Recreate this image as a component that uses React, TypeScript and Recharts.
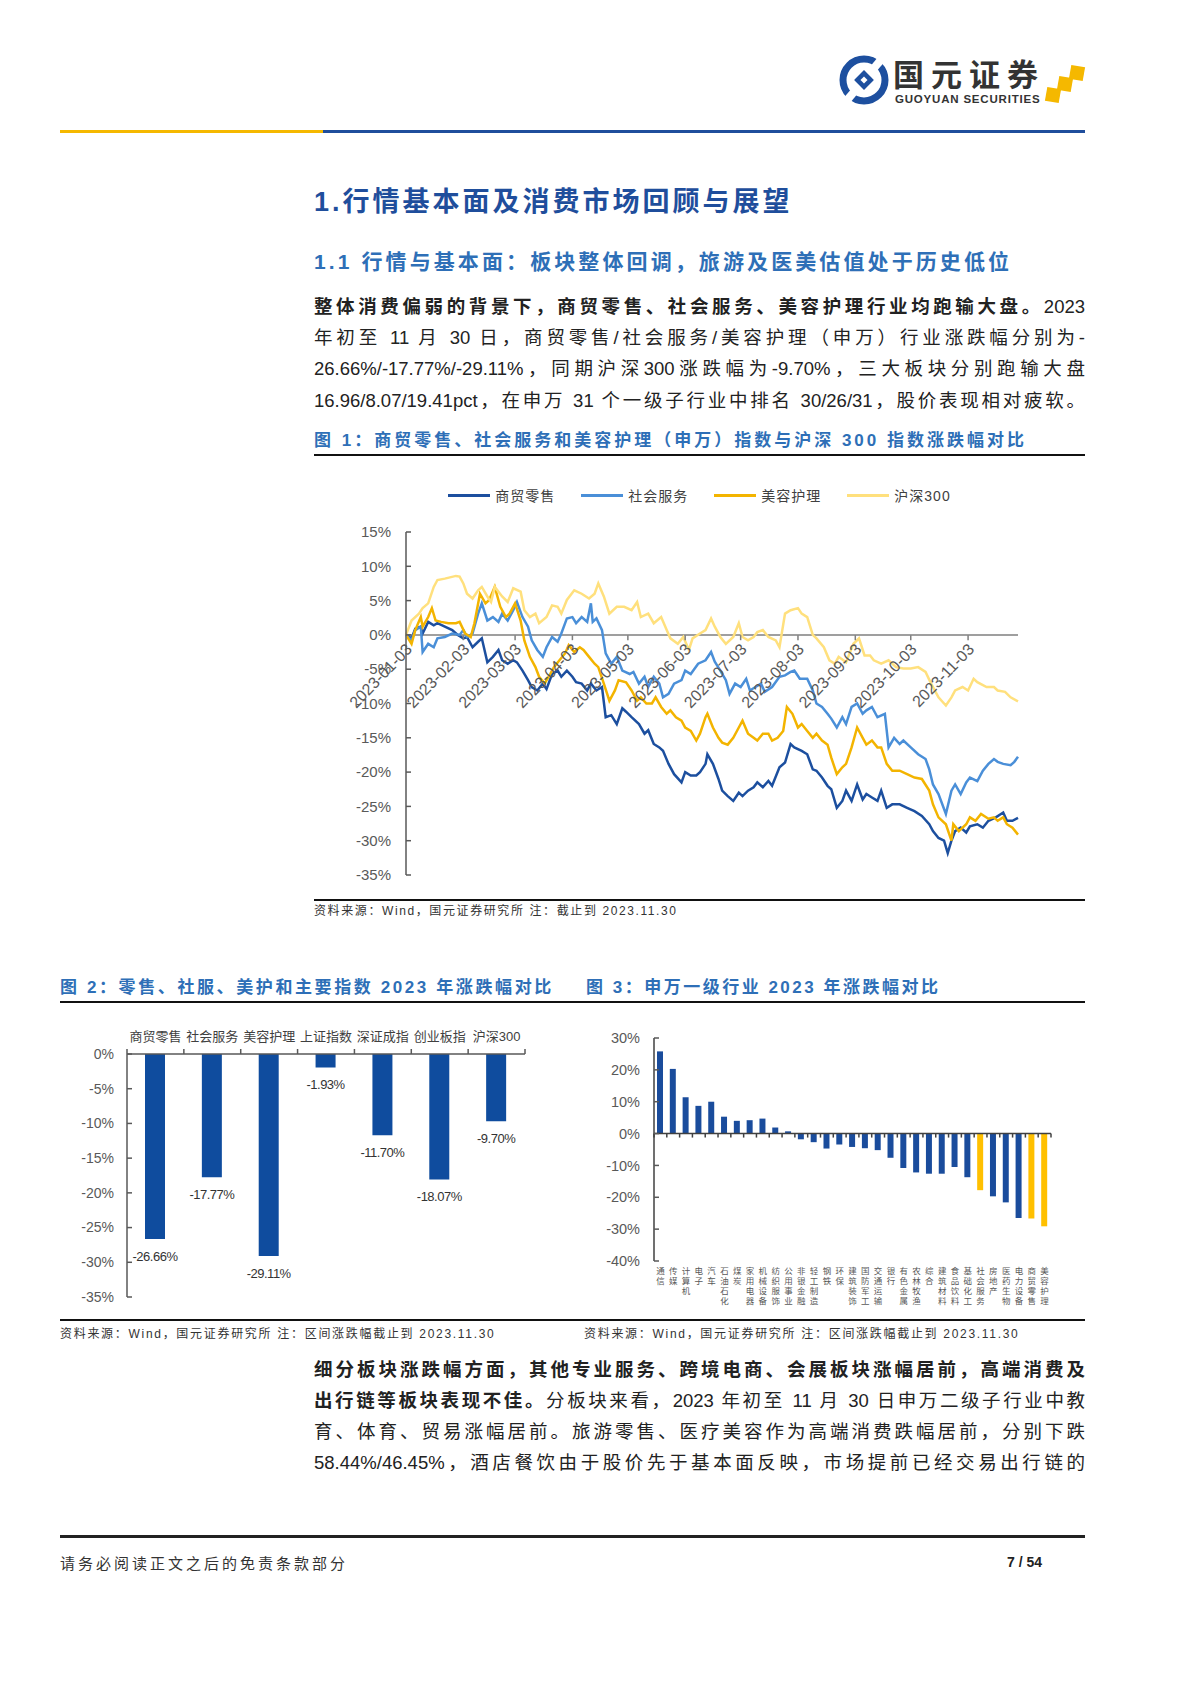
import React from 'react';
import {
  LineChart, Line, BarChart, Bar, XAxis, YAxis, ReferenceLine, Legend, LabelList, Cell,
} from 'recharts';

const FONT = '"Liberation Sans", "Noto Sans CJK SC", sans-serif';
const TITLE_BLUE = '#1F4E9C';
const CAP_BLUE = '#2E6FB7';
const AXIS = '#595959';

// ---- 图1: [day of year, %] ----
const retailPts: [number, number][] = [
  [3, 0], [6, -0.5], [8, 0.9], [11, 1.2], [12, 0.2], [15, 1.9], [18, 1.4], [20, 1.7], [24, 1.2], [28, 0.7],
  [31, 0], [34, -0.5], [36, -0.3], [39, -1.8], [42, -1], [44, -0.5], [47, -4], [50, -3.2], [53, -2.2], [55, -3.7],
  [58, -4.2], [61, -3.7], [63, -4], [66, -5.2], [69, -6.6], [71, -7.6], [74, -8.1], [77, -7.1], [79, -7.9], [82, -5.7],
  [85, -5.2], [87, -6.1], [90, -5.2], [93, -6.1], [95, -6.9], [98, -7.1], [101, -8.1], [103, -7.1], [106, -8.1], [109, -7.6],
  [111, -12], [114, -11.7], [117, -13], [120, -10.7], [122, -11.2], [125, -12], [129, -13], [132, -14.4], [134, -13.9], [137, -15.9],
  [140, -16.4], [142, -16.9], [145, -18.8], [148, -20.3], [152, -21.5], [154, -20], [157, -20.5], [160, -20.5], [162, -20], [165, -18.8],
  [166, -17.4], [169, -18.8], [172, -21], [174, -22.7], [177, -23.5], [180, -24.2], [183, -23], [185, -23.5], [188, -22.7], [191, -22.2],
  [193, -21.5], [196, -22.2], [199, -21.3], [201, -22], [205, -19.3], [208, -18.6], [211, -15.9], [213, -16.4], [217, -16.9], [220, -17.4],
  [223, -19.6], [225, -19.8], [228, -20.8], [231, -22], [233, -22.5], [236, -25.2], [239, -24.2], [241, -22.7], [244, -24.2], [247, -21.8],
  [250, -24], [252, -23.2], [255, -23.7], [258, -24.2], [260, -22.7], [263, -25.2], [266, -24.7], [270, -24.7], [274, -25.2], [278, -25.7],
  [282, -26.4], [286, -27.6], [288, -28.6], [291, -29.6], [294, -30], [296, -31.8], [298, -30], [300, -28.6], [303, -28.1], [306, -28.8],
  [308, -27.9], [312, -27.6], [315, -28.1], [318, -27.1], [322, -26.6], [326, -25.9], [328, -27.1], [331, -27.1], [334, -26.66],
];
const socialPts: [number, number][] = [
  [3, 0], [6, -0.8], [8, 0.7], [11, 1.2], [12, -2.5], [15, -1.3], [18, -1.8], [20, -0.5], [24, -0.3], [28, 0.2],
  [32, 0], [34, 0.7], [36, -0.3], [39, 0.2], [42, 3.1], [44, 4.6], [47, 2.1], [50, 2.6], [53, 1.9], [55, 3.1],
  [58, 2.1], [61, 3.6], [63, 4.8], [66, 2.6], [69, 1.2], [71, -0.8], [74, -2.2], [77, -3.2], [79, -1.8], [82, -0.3],
  [85, -1], [87, 0.2], [90, 2.4], [93, 2.6], [95, 1.7], [98, 2.6], [101, 1.9], [103, 4.6], [104, 1.9], [106, 2.4],
  [109, 0.7], [111, -2.7], [114, -4.2], [117, -3.2], [120, -5.2], [124, -5.7], [126, -5.4], [129, -7.1], [132, -6.1], [134, -7.6],
  [137, -6.1], [140, -7.1], [142, -9.1], [145, -8.6], [148, -7.1], [152, -6.6], [154, -5.2], [157, -5.7], [161, -4.2], [165, -3.7],
  [168, -2.5], [170, -3.9], [173, -5.2], [176, -6.6], [178, -8.6], [181, -7.1], [184, -7.6], [187, -6.4], [189, -8.1], [192, -7.6],
  [195, -7.1], [197, -8.3], [201, -7.6], [205, -6.1], [208, -5.9], [211, -5.4], [213, -5.2], [216, -6.4], [220, -6.4], [223, -8.1],
  [225, -10], [228, -10.5], [231, -11.5], [233, -12.2], [236, -13.5], [239, -12], [241, -13], [244, -10.5], [247, -10], [250, -11.5],
  [252, -11], [255, -10.5], [258, -12], [262, -11.5], [264, -16.4], [267, -15], [270, -15.9], [272, -15.4], [276, -16.4], [280, -17.4],
  [284, -18.1], [286, -19.6], [288, -21.8], [291, -23.2], [295, -26.1], [298, -22.7], [300, -21.8], [303, -23.2], [306, -21.5], [308, -20.8],
  [312, -21.3], [315, -19.8], [318, -18.8], [321, -18.1], [323, -18.5], [326, -18.8], [330, -19], [332, -18.5], [334, -17.77],
];
const beautyPts: [number, number][] = [
  [3, 0], [6, -1.3], [8, 0.7], [11, 2.6], [12, 1.2], [15, 2.6], [17, 3.9], [19, 2.1], [22, 1.9], [26, 1.7],
  [30, 1.7], [32, 1.9], [35, 0.2], [38, -0.3], [40, 1.7], [43, 6], [46, 4.6], [48, 5.1], [51, 7], [54, 4.1],
  [57, 2.6], [59, 3.1], [62, 4.6], [65, 2.1], [67, -0.8], [70, -3.2], [73, -4.7], [75, -6.1], [78, -7.1], [81, -5.7],
  [83, -4.7], [86, -3.7], [89, -2.7], [91, -1.5], [94, -2.5], [97, -1.8], [99, -2.2], [102, -3.2], [105, -4.2], [107, -4.7],
  [110, -7.1], [113, -9.6], [116, -8.1], [118, -6.6], [122, -6.9], [125, -8.1], [128, -9.6], [130, -9.1], [133, -10], [136, -10],
  [138, -9.1], [141, -10.5], [144, -11.5], [146, -11], [149, -12], [152, -12.5], [154, -13.5], [157, -14], [160, -15.4], [162, -14.4],
  [165, -12], [166, -11.5], [169, -13.5], [172, -15], [174, -15.7], [177, -16], [180, -15], [183, -13.5], [185, -12.5], [188, -14.4],
  [191, -15], [193, -15.4], [196, -14.4], [199, -14.4], [201, -15.4], [204, -15], [207, -14], [209, -10.5], [212, -11.5], [215, -13.5],
  [217, -13], [220, -14], [223, -15], [225, -14.4], [228, -15.4], [231, -16], [233, -17.9], [236, -20.3], [239, -19.3], [241, -18.8],
  [244, -16.4], [247, -13.5], [250, -15], [252, -16], [255, -15.4], [258, -16.4], [260, -16.4], [263, -18.8], [266, -19.8], [270, -19.8],
  [274, -20.3], [278, -20.8], [282, -21], [286, -22.7], [288, -24.7], [291, -26.6], [295, -27.6], [298, -30], [299, -27.6], [302, -28.6],
  [306, -27.6], [308, -26.6], [311, -27.1], [314, -26.1], [318, -26.8], [321, -26.6], [323, -27.1], [326, -26.6], [328, -27.6], [331, -28.1],
  [334, -29.11],
];
const hs300Pts: [number, number][] = [
  [3, 0], [6, 2.1], [10, 3.1], [12, 3.9], [15, 4.6], [18, 7], [20, 8], [24, 8.2], [30, 8.6], [32, 8.5],
  [34, 7.5], [36, 6], [39, 5.3], [42, 6.5], [44, 7], [47, 5.6], [49, 4.8], [51, 7], [55, 5.6], [58, 4.8],
  [61, 6.8], [65, 6.3], [67, 3.6], [70, 2.6], [73, 3.1], [75, 1.7], [79, 2.6], [82, 4.3], [85, 4.1], [87, 3.1],
  [90, 5.1], [94, 6.5], [98, 6], [102, 5.3], [105, 6], [107, 7.5], [110, 5.6], [113, 3.1], [117, 4.1], [121, 4.1],
  [125, 3.6], [128, 4.8], [130, 2.6], [134, 3.1], [137, 1.7], [141, 2.6], [144, 0.7], [146, -0.5], [150, -1.3], [153, -0.3],
  [156, -2.2], [158, -0.5], [162, 0.2], [165, 0.7], [168, 2.4], [170, 1.2], [173, -0.3], [176, -1.3], [180, -0.3], [183, 1.7],
  [185, -0.3], [188, -0.8], [191, -0.3], [193, 0.4], [196, 0.7], [199, -0.3], [203, -0.8], [205, -1.8], [208, 3.1], [211, 3.6],
  [215, 3.9], [217, 3.1], [220, 2.6], [223, 0], [225, -0.5], [229, -1.8], [232, -3.7], [235, -4.2], [237, -3.2], [241, -4],
  [245, -1.3], [248, -0.5], [251, -3], [254, -3], [256, -3.7], [260, -4.2], [264, -3.7], [268, -4.7], [272, -4.9], [276, -4.9],
  [280, -4.7], [284, -5.4], [287, -7.1], [291, -9.1], [295, -10.3], [298, -9.1], [300, -8.1], [304, -7.6], [307, -8.1], [310, -6.4],
  [312, -6.9], [317, -7.6], [321, -7.6], [323, -8.1], [327, -8.3], [330, -9.1], [334, -9.7],
];

const monthTicks = [3, 34, 62, 93, 123, 154, 184, 215, 246, 276, 307];
const monthLabels = [
  '2023-01-03', '2023-02-03', '2023-03-03', '2023-04-03', '2023-05-03', '2023-06-03',
  '2023-07-03', '2023-08-03', '2023-09-03', '2023-10-03', '2023-11-03',
];
const pctTicks1 = [15, 10, 5, 0, -5, -10, -15, -20, -25, -30, -35];

// ---- 图2 ----
const idxNames = ['商贸零售', '社会服务', '美容护理', '上证指数', '深证成指', '创业板指', '沪深300'];
const idxValues = [-26.66, -17.77, -29.11, -1.93, -11.7, -18.07, -9.7];
const pctTicks2 = [0, -5, -10, -15, -20, -25, -30, -35];

// ---- 图3 ----
const indNames = [
  '通信', '传媒', '计算机', '电子', '汽车', '石油石化', '煤炭', '家用电器', '机械设备', '纺织服饰',
  '公用事业', '非银金融', '轻工制造', '钢铁', '环保', '建筑装饰', '国防军工', '交通运输', '银行', '有色金属',
  '农林牧渔', '综合', '建筑材料', '食品饮料', '基础化工', '社会服务', '房地产', '医药生物', '电力设备', '商贸零售',
  '美容护理',
];
const indValues = [
  25.8, 20.3, 11.4, 8.7, 10.0, 5.3, 4.0, 4.2, 4.7, 1.9,
  0.7, -1.8, -2.7, -4.7, -3.4, -4.2, -4.6, -5.2, -7.6, -10.8,
  -12.2, -12.6, -12.6, -10.5, -13.7, -17.77, -19.7, -21.6, -26.5, -26.66,
  -29.11,
];
const highlight = ['社会服务', '商贸零售', '美容护理'];
const pctTicks3 = [30, 20, 10, 0, -10, -20, -30, -40];

const seriesList = [
  { key: 'retail', name: '商贸零售', color: '#1C4F9F', pts: retailPts },
  { key: 'social', name: '社会服务', color: '#4A8FD8', pts: socialPts },
  { key: 'beauty', name: '美容护理', color: '#F3B400', pts: beautyPts },
  { key: 'hs300', name: '沪深300', color: '#FFE07D', pts: hs300Pts },
];

const lineData = (() => {
  const rows = new Map<number, any>();
  seriesList.forEach((s) => s.pts.forEach(([d, v]) => {
    const row = rows.get(d) ?? { d };
    row[s.key] = v;
    rows.set(d, row);
  }));
  return [...rows.values()].sort((a, b) => a.d - b.d);
})();
const idxData = idxNames.map((name, i) => ({ name, v: idxValues[i] }));
const indData = indNames.map((name, i) => ({ name, v: indValues[i] }));

// chart 1 plot geometry (inside its svg); legend box height is added on top of margin
const LEGEND_H = 20;
const C1 = { w: 771, h: 425, top: 62, left: 92, right: 67, bottom: 19 };
const C1_ZERO = C1.top + (C1.h - C1.top - C1.bottom) * (15 / 50);

const C2 = { w: 492, h: 300, top: 44, left: 67, right: 27, bottom: 13 };
const C2_BAND = (C2.w - C2.left - C2.right) / idxNames.length;

const C3 = { w: 499, h: 300, top: 23, left: 68, right: 34, xh: 54 };
const C3_ZERO = C3.top + (C3.h - C3.top - C3.xh) * (30 / 70);
const C3_BAND = (C3.w - C3.left - C3.right) / indNames.length;

const MonthTick = (props: any) => {
  const { x, payload } = props;
  const i = monthTicks.indexOf(payload.value);
  return (
    <g>
      <line x1={x} x2={x} y1={C1_ZERO} y2={C1_ZERO + 5} stroke="#7F7F7F" strokeWidth={1.5} />
      <text
        transform={`translate(${x + 3},${C1_ZERO + 11}) rotate(-46)`}
        textAnchor="end" dy="0.35em" fontSize={16} fill={AXIS} fontFamily={FONT}
      >
        {monthLabels[i]}
      </text>
    </g>
  );
};

const makeYTick = (axisX: number, size: number, gap: number) => (props: any) => {
  const { y, payload } = props;
  return (
    <g>
      <line x1={axisX} x2={axisX + 5} y1={y} y2={y} stroke={AXIS} strokeWidth={1.5} />
      <text x={axisX - gap} y={y} dy="0.35em" textAnchor="end" fontSize={size} fill={AXIS} fontFamily={FONT}>
        {`${payload.value}%`}
      </text>
    </g>
  );
};

const TopTick = (props: any) => {
  const { x, payload, index } = props;
  const last = index === idxNames.length - 1;
  return (
    <g>
      <line x1={x - C2_BAND / 2} x2={x - C2_BAND / 2} y1={C2.top} y2={C2.top - 5} stroke={AXIS} strokeWidth={1.5} />
      {last && <line x1={x + C2_BAND / 2} x2={x + C2_BAND / 2} y1={C2.top} y2={C2.top - 5} stroke={AXIS} strokeWidth={1.5} />}
      <text x={x} y={C2.top - 18} dy="0.35em" textAnchor="middle" fontSize={13} fill="#404040" fontFamily={FONT}>
        {payload.value}
      </text>
    </g>
  );
};

const VertTick = (props: any) => {
  const { x, payload, index } = props;
  const chars = String(payload.value).split('');
  const last = index === indNames.length - 1;
  return (
    <g>
      <line x1={x - C3_BAND / 2} x2={x - C3_BAND / 2} y1={C3_ZERO} y2={C3_ZERO + 4} stroke="#404040" strokeWidth={1.5} />
      {last && <line x1={x + C3_BAND / 2} x2={x + C3_BAND / 2} y1={C3_ZERO} y2={C3_ZERO + 4} stroke="#404040" strokeWidth={1.5} />}
      {chars.map((c, i) => (
        <text key={i} x={x} y={C3.h - C3.xh + 13 + i * 10} textAnchor="middle" fontSize={8.5} fill="#595959" fontFamily={FONT}>
          {c}
        </text>
      ))}
    </g>
  );
};

const BarValueLabel = (props: any) => {
  const { x, y, width, height, value } = props;
  const end = Math.max(y, y + height);
  return (
    <text x={x + width / 2} y={end + 17} dy="0.35em" textAnchor="middle" fontSize={13} fill="#333" fontFamily={FONT} letterSpacing={-0.5}>
      {`${Number(value).toFixed(2)}%`}
    </text>
  );
};

const LegendContent = () => (
  <div style={{ display: 'flex', justifyContent: 'center', gap: 26, height: LEGEND_H, alignItems: 'center', fontFamily: FONT, fontSize: 14, letterSpacing: 1, color: '#404040' }}>
    {seriesList.map((s) => (
      <div key={s.key} style={{ display: 'flex', alignItems: 'center' }}>
        <span style={{ display: 'inline-block', width: 42, height: 3, background: s.color, marginRight: 5 }} />
        <span>{s.name}</span>
      </div>
    ))}
  </div>
);

const Txt = ({ x, y, size, w, bold, color, ls, justify, children }: any) => (
  <div
    style={{
      position: 'absolute', left: x, top: y - size * 0.7, width: w, height: size * 1.4, lineHeight: `${size * 1.4}px`,
      fontSize: size, fontWeight: bold ? 700 : 400, color: color ?? '#222', letterSpacing: ls ?? 0,
      whiteSpace: 'nowrap', fontFamily: FONT,
      textAlign: justify ? 'justify' : 'left', textAlignLast: justify ? 'justify' : 'auto',
    } as React.CSSProperties}
  >
    {children}
  </div>
);

const HLine = ({ x, y, w, h, color }: any) => (
  <div style={{ position: 'absolute', left: x, top: y - h / 2, width: w, height: h, background: color }} />
);

const Logo = () => (
  <svg style={{ position: 'absolute', left: 838, top: 54 }} width={52} height={52}>
    <circle cx={26} cy={26} r={21} stroke="#1D4F9F" strokeWidth={7} fill="none" />
    <rect x={22} y={0} width={8} height={12} fill="#fff" transform="rotate(40 26 26)" />
    <rect x={22} y={40} width={8} height={12} fill="#fff" transform="rotate(40 26 26)" />
    <rect x={19} y={19} width={14} height={14} fill="#1D4F9F" transform="rotate(45 26 26)" />
    <rect x={23.5} y={23.5} width={5} height={5} fill="#fff" transform="rotate(45 26 26)" />
  </svg>
);

export default function App() {
  return (
    <div style={{ position: 'absolute', left: 0, top: 0, width: 1200, height: 1698, background: '#fff', overflow: 'hidden' }}>
      {/* header */}
      <Logo />
      <Txt x={893} y={76} size={31} bold color="#333" ls={7}>国元证券</Txt>
      <Txt x={895} y={99} size={11.5} bold color="#333" ls={0.8}>GUOYUAN SECURITIES</Txt>
      {[[1046, 88], [1058, 77], [1070, 66]].map(([x, y], i) => (
        <div key={i} style={{ position: 'absolute', left: x, top: y, width: 14, height: 14, background: '#F5B800', transform: 'rotate(10deg)' }} />
      ))}
      <HLine x={60} y={131} w={263} h={3} color="#F5B800" />
      <HLine x={323} y={131} w={762} h={3} color={TITLE_BLUE} />

      {/* headings */}
      <Txt x={314} y={203} size={27} bold color={TITLE_BLUE} ls={3}>1.行情基本面及消费市场回顾与展望</Txt>
      <Txt x={314} y={262} size={21} bold color={CAP_BLUE} ls={3.1}>1.1 行情与基本面：板块整体回调，旅游及医美估值处于历史低位</Txt>

      <Txt x={314} y={307} size={18.5} w={771} justify><b>整体消费偏弱的背景下，商贸零售、社会服务、美容护理行业均跑输大盘。</b>2023</Txt>
      <Txt x={314} y={338} size={18.5} w={771} justify>年初至 11 月 30 日，商贸零售/社会服务/美容护理（申万）行业涨跌幅分别为-</Txt>
      <Txt x={314} y={369} size={18.5} w={771} justify>26.66%/-17.77%/-29.11%，同期沪深300涨跌幅为-9.70%，三大板块分别跑输大盘</Txt>
      <Txt x={314} y={401} size={18.5} w={771} justify>16.96/8.07/19.41pct，在申万 31 个一级子行业中排名 30/26/31，股价表现相对疲软。</Txt>

      {/* figure 1 */}
      <Txt x={314} y={441} size={17} bold color={CAP_BLUE} ls={3}>图 1：商贸零售、社会服务和美容护理（申万）指数与沪深 300 指数涨跌幅对比</Txt>
      <HLine x={314} y={455} w={771} h={2.5} color="#111" />
      <div style={{ position: 'absolute', left: 314, top: 470 }}>
        <LineChart width={C1.w} height={C1.h} data={lineData} margin={{ top: C1.top - LEGEND_H, right: C1.right, bottom: C1.bottom, left: 0 }}>
          <XAxis
            dataKey="d" type="number" domain={[3, 334]} ticks={monthTicks} interval={0}
            height={1} axisLine={false} tickLine={false} tick={<MonthTick />}
          />
          <YAxis
            type="number" domain={[-35, 15]} ticks={pctTicks1} interval={0} width={C1.left}
            axisLine={{ stroke: AXIS, strokeWidth: 1.5 }} tickLine={false} tick={makeYTick(C1.left, 15, 15)}
          />
          <ReferenceLine y={0} stroke="#7F7F7F" strokeWidth={1.5} />
          <Legend verticalAlign="top" height={LEGEND_H} content={<LegendContent />} wrapperStyle={{ top: 15, left: 0, width: C1.w }} />
          {seriesList.map((s) => (
            <Line
              key={s.key} dataKey={s.key} name={s.name} type="linear" stroke={s.color} strokeWidth={2.5}
              dot={false} connectNulls isAnimationActive={false}
            />
          ))}
        </LineChart>
      </div>
      <HLine x={314} y={900} w={771} h={2.5} color="#111" />
      <Txt x={314} y={911} size={12} color="#333" ls={1.6}>资料来源：Wind，国元证券研究所 注：截止到 2023.11.30</Txt>

      {/* figure 2 & 3 captions */}
      <Txt x={60} y={988} size={17} bold color={CAP_BLUE} ls={2.6}>图 2：零售、社服、美护和主要指数 2023 年涨跌幅对比</Txt>
      <Txt x={586} y={988} size={17} bold color={CAP_BLUE} ls={2.5}>图 3：申万一级行业 2023 年涨跌幅对比</Txt>
      <HLine x={60} y={1002} w={1025} h={2.5} color="#111" />

      <div style={{ position: 'absolute', left: 60, top: 1010 }}>
        <BarChart width={C2.w} height={C2.h} data={idxData} margin={{ top: C2.top - 24, right: C2.right, bottom: C2.bottom, left: 0 }}>
          <XAxis
            dataKey="name" orientation="top" height={24} interval={0}
            axisLine={{ stroke: AXIS, strokeWidth: 1.5 }} tickLine={false} tick={<TopTick />}
          />
          <YAxis
            type="number" domain={[-35, 0]} ticks={pctTicks2} interval={0} width={C2.left}
            axisLine={{ stroke: AXIS, strokeWidth: 1.5 }} tickLine={false} tick={makeYTick(C2.left, 14, 13)}
          />
          <Bar dataKey="v" fill="#0F4C9E" barSize={20} isAnimationActive={false}>
            <LabelList dataKey="v" content={<BarValueLabel />} />
          </Bar>
        </BarChart>
      </div>

      <div style={{ position: 'absolute', left: 586, top: 1015 }}>
        <BarChart width={C3.w} height={C3.h} data={indData} margin={{ top: C3.top, right: C3.right, bottom: 0, left: 0 }}>
          <XAxis
            dataKey="name" height={C3.xh} interval={0}
            axisLine={false} tickLine={false} tick={<VertTick />}
          />
          <YAxis
            type="number" domain={[-40, 30]} ticks={pctTicks3} interval={0} width={C3.left}
            axisLine={{ stroke: '#404040', strokeWidth: 1.5 }} tickLine={false} tick={makeYTick(C3.left, 14.5, 14)}
          />
          <ReferenceLine y={0} stroke="#404040" strokeWidth={1.5} />
          <Bar dataKey="v" barSize={6} isAnimationActive={false}>
            {indData.map((d) => (
              <Cell key={d.name} fill={highlight.includes(d.name) ? '#FFC000' : '#1A4C9C'} />
            ))}
          </Bar>
        </BarChart>
      </div>

      <HLine x={60} y={1320} w={1025} h={2.5} color="#111" />
      <Txt x={60} y={1334} size={12} color="#333" ls={1.7}>资料来源：Wind，国元证券研究所 注：区间涨跌幅截止到 2023.11.30</Txt>
      <Txt x={584} y={1334} size={12} color="#333" ls={1.7}>资料来源：Wind，国元证券研究所 注：区间涨跌幅截止到 2023.11.30</Txt>

      {/* paragraph 2 */}
      <Txt x={314} y={1370} size={18.5} w={771} justify bold>细分板块涨跌幅方面，其他专业服务、跨境电商、会展板块涨幅居前，高端消费及</Txt>
      <Txt x={314} y={1401} size={18.5} w={771} justify><b>出行链等板块表现不佳。</b>分板块来看，2023 年初至 11 月 30 日申万二级子行业中教</Txt>
      <Txt x={314} y={1432} size={18.5} w={771} justify>育、体育、贸易涨幅居前。旅游零售、医疗美容作为高端消费跌幅居前，分别下跌</Txt>
      <Txt x={314} y={1463} size={18.5} w={771} justify>58.44%/46.45%，酒店餐饮由于股价先于基本面反映，市场提前已经交易出行链的</Txt>

      {/* footer */}
      <HLine x={60} y={1536} w={1025} h={3} color="#222" />
      <Txt x={60} y={1563} size={15} color="#333" ls={3}>请务必阅读正文之后的免责条款部分</Txt>
      <Txt x={1007} y={1563} size={14} bold color="#222">7 / 54</Txt>
    </div>
  );
}
